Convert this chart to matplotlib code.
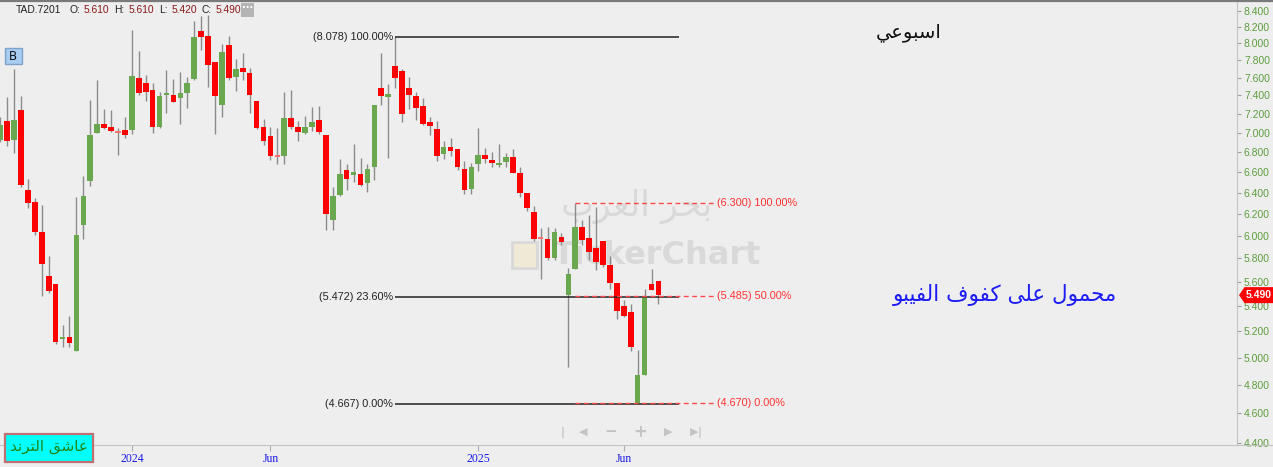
import matplotlib
matplotlib.use('Agg')
import matplotlib.pyplot as plt
from matplotlib.ticker import FixedLocator, FixedFormatter, NullLocator
from matplotlib.patches import Rectangle, Polygon
from matplotlib.lines import Line2D
from matplotlib.transforms import IdentityTransform

# ---------------- data ----------------
symbol = 'TAD.7201'
opens = [6.92, 7.12, 6.92, 7.24, 6.42, 6.31, 6.03, 5.65, 5.58, 5.14,
         5.16, 5.05, 6.10, 6.51, 7.00, 7.09, 7.06, 7.00, 7.03, 7.03,
         7.60, 7.54, 7.46, 7.06, 7.40, 7.41, 7.37, 7.43, 7.58, 8.15,
         8.09, 7.78, 7.29, 7.98, 7.61, 7.71, 7.65, 7.34, 7.06, 6.96,
         6.75, 6.76, 7.15, 7.06, 7.00, 7.06, 7.13, 6.98, 6.14, 6.38,
         6.62, 6.57, 6.58, 6.49, 6.65, 7.48, 7.38, 7.73, 7.67, 7.48,
         7.39, 7.28, 7.11, 7.04, 6.78, 6.85, 6.83, 6.63, 6.43, 6.68,
         6.77, 6.72, 6.67, 6.70, 6.75, 6.59, 6.40, 6.22, 5.97, 5.97,
         5.80, 5.99, 5.49, 5.71, 6.08, 5.98, 5.89, 5.95, 5.74, 5.59,
         5.40, 5.35, 4.67, 4.87, 5.58, 5.61]
highs = [7.16, 7.38, 7.70, 7.39, 6.53, 6.35, 6.28, 5.82, 5.58, 5.25,
         5.32, 6.36, 6.56, 7.35, 7.57, 7.25, 7.24, 7.05, 7.16, 8.16,
         7.91, 7.63, 7.54, 7.44, 7.69, 7.58, 7.66, 7.61, 8.27, 8.33,
         8.34, 7.78, 7.99, 8.09, 7.81, 7.89, 7.71, 7.34, 7.14, 7.06,
         7.05, 7.44, 7.46, 7.12, 7.18, 7.27, 7.28, 6.98, 6.45, 6.73,
         6.68, 6.88, 6.74, 6.68, 7.30, 7.89, 7.53, 8.078, 7.70, 7.61,
         7.44, 7.37, 7.16, 7.12, 6.91, 6.94, 6.83, 6.71, 6.69, 7.05,
         6.84, 6.80, 6.88, 6.79, 6.83, 6.65, 6.40, 6.27, 6.07, 6.08,
         6.07, 6.02, 5.72, 6.30, 6.14, 6.19, 6.26, 5.95, 5.82, 5.59,
         5.45, 5.42, 5.06, 5.54, 5.71, 5.61]
lows = [6.90, 6.86, 6.79, 6.45, 6.25, 6.01, 5.48, 5.51, 5.10, 5.08,
        5.08, 5.05, 5.97, 6.46, 7.00, 7.04, 7.01, 6.77, 6.94, 6.99,
        7.41, 7.34, 7.00, 7.05, 7.21, 7.33, 7.09, 7.26, 7.57, 7.92,
        7.49, 6.99, 7.16, 7.57, 7.45, 7.57, 7.21, 7.04, 6.87, 6.72,
        6.68, 6.68, 7.04, 6.91, 6.99, 7.02, 6.99, 6.05, 6.05, 6.37,
        6.42, 6.50, 6.46, 6.41, 6.52, 7.29, 6.74, 7.48, 7.11, 7.25,
        7.13, 7.08, 6.98, 6.71, 6.73, 6.76, 6.62, 6.39, 6.39, 6.61,
        6.69, 6.65, 6.65, 6.65, 6.59, 6.36, 6.23, 5.95, 5.62, 5.79,
        5.79, 5.92, 4.93, 5.71, 5.92, 5.79, 5.70, 5.73, 5.54, 5.30,
        5.31, 5.05, 4.667, 4.87, 5.53, 5.42]
closes = [7.08, 6.91, 7.13, 6.47, 6.30, 6.03, 5.75, 5.52, 5.12, 5.15,
          5.11, 6.01, 6.37, 6.98, 7.09, 7.05, 7.02, 7.00, 6.98, 7.62,
          7.43, 7.44, 7.06, 7.39, 7.41, 7.33, 7.43, 7.54, 8.08, 8.08,
          7.74, 7.39, 7.90, 7.60, 7.70, 7.66, 7.41, 7.05, 6.91, 6.76,
          6.75, 7.15, 7.06, 7.01, 7.06, 7.11, 7.01, 6.20, 6.37, 6.58,
          6.53, 6.60, 6.47, 6.63, 7.30, 7.39, 7.42, 7.59, 7.20, 7.40,
          7.26, 7.09, 7.07, 6.76, 6.85, 6.81, 6.65, 6.42, 6.65, 6.77,
          6.73, 6.69, 6.69, 6.75, 6.59, 6.40, 6.25, 5.97, 5.97, 5.80,
          6.03, 5.94, 5.67, 6.08, 5.96, 5.86, 5.77, 5.74, 5.59, 5.36,
          5.32, 5.08, 4.87, 5.47, 5.53, 5.49]

x_tick_pos = [19, 39, 69, 90]
x_tick_labels = ['2024', 'Jun', '2025', 'Jun']
y_ticks = [4.4, 4.6, 4.8, 5.0, 5.2, 5.4, 5.6, 5.8, 6.0, 6.2, 6.4,
           6.6, 6.8, 7.0, 7.2, 7.4, 7.6, 7.8, 8.0, 8.2, 8.4]

fib1_levels = [8.078, 5.472, 4.667]
fib1_pcts = ['100.00%', '23.60%', '0.00%']
fib2_levels = [6.300, 5.485, 4.670]
fib2_pcts = ['100.00%', '50.00%', '0.00%']

title_ar = 'اسبوعي'
note_ar = 'محمول على كفوف الفيبو'
badge_ar = 'عاشق الترند'
wm_ar = 'بحر العرب'
wm_en = 'TickerChart'

# ---------------- Arabic shaping (presentation forms, visual order) ----------------
AR_FORMS = {
    'ا': ('\uFE8D', '\uFE8E'),
    'ب': ('\uFE8F', '\uFE90', '\uFE91', '\uFE92'),
    'ت': ('\uFE95', '\uFE96', '\uFE97', '\uFE98'),
    'ج': ('\uFE9D', '\uFE9E', '\uFE9F', '\uFEA0'),
    'ح': ('\uFEA1', '\uFEA2', '\uFEA3', '\uFEA4'),
    'د': ('\uFEA9', '\uFEAA'),
    'ر': ('\uFEAD', '\uFEAE'),
    'س': ('\uFEB1', '\uFEB2', '\uFEB3', '\uFEB4'),
    'ش': ('\uFEB5', '\uFEB6', '\uFEB7', '\uFEB8'),
    'ع': ('\uFEC9', '\uFECA', '\uFECB', '\uFECC'),
    'غ': ('\uFECD', '\uFECE', '\uFECF', '\uFED0'),
    'ف': ('\uFED1', '\uFED2', '\uFED3', '\uFED4'),
    'ق': ('\uFED5', '\uFED6', '\uFED7', '\uFED8'),
    'ك': ('\uFED9', '\uFEDA', '\uFEDB', '\uFEDC'),
    'ل': ('\uFEDD', '\uFEDE', '\uFEDF', '\uFEE0'),
    'م': ('\uFEE1', '\uFEE2', '\uFEE3', '\uFEE4'),
    'ن': ('\uFEE5', '\uFEE6', '\uFEE7', '\uFEE8'),
    'ه': ('\uFEE9', '\uFEEA', '\uFEEB', '\uFEEC'),
    'و': ('\uFEED', '\uFEEE'),
    'ى': ('\uFEEF', '\uFEF0', '\uFBE8', '\uFBE9'),
    'ي': ('\uFEF1', '\uFEF2', '\uFEF3', '\uFEF4'),
}


def shape_ar(s):
    out = []
    n = len(s)
    for i, ch in enumerate(s):
        forms = AR_FORMS.get(ch)
        if not forms:
            out.append(ch)
            continue
        prev = s[i - 1] if i > 0 else ''
        nxt = s[i + 1] if i + 1 < n else ''
        jp = prev in AR_FORMS and len(AR_FORMS[prev]) == 4
        jn = len(forms) == 4 and nxt in AR_FORMS
        if jp and jn:
            out.append(forms[3])
        elif jp:
            out.append(forms[1])
        elif jn:
            out.append(forms[2])
        else:
            out.append(forms[0])
    return ''.join(reversed(out))


# ---------------- figure ----------------
W, H = 1273, 467
BG = '#eeeeee'
fig = plt.figure(figsize=(W / 100, H / 100), dpi=100, facecolor=BG)


def fx(x):
    return x / W


def fy(y):
    return 1 - y / H


ax = fig.add_axes([0, fy(445), fx(1237), 445 / H], facecolor=BG)
ax.set_yscale('log')
ax.set_ylim(4.388, 8.535)
ax.set_xlim(-0.03, 178.5)

GREEN = '#6aa84f'
RED = '#ff0000'
WICK = '#8c8c8c'

xs = list(range(len(closes)))
ax.vlines(xs, lows, highs, color=WICK, lw=1.0, zorder=2)
for i in xs:
    o, c = opens[i], closes[i]
    col = GREEN if c > o else RED
    lo, hi = min(o, c), max(o, c)
    if hi - lo < lo * 0.003:
        hi = lo * 1.003
        if c == o:
            col = '#ff7070'
    ax.bar(i, hi - lo, bottom=lo, width=0.82, color=col, lw=0, zorder=3)

# Fibonacci 1 (black, solid)
for lev, pct in zip(fib1_levels, fib1_pcts):
    ax.hlines(lev, 57, 97.9, color='#222222', lw=1.1, zorder=4)
    ax.text(56.7, lev, f'({lev:.3f}) {pct}', ha='right', va='center',
            fontsize=7.8, color='#222222', family='Liberation Sans', zorder=5)

# Fibonacci 2 (red, dashed)
for lev, pct in zip(fib2_levels, fib2_pcts):
    ax.hlines(lev, 83, 103.2, color='#ff4a4a', lw=1.0, linestyles=(0, (3.5, 2.5)), zorder=4)
    ax.text(103.4, lev, f'({lev:.3f}) {pct}', ha='left', va='center',
            fontsize=7.8, color='#ff3030', family='Liberation Sans', zorder=5)

# watermark
ax.text(553 / 1237, 1 - 255 / 445, wm_en, transform=ax.transAxes,
        fontsize=23, fontweight='bold', color='#d9d9d9', ha='left', va='center',
        family='DejaVu Sans', zorder=1)
ax.text(637 / 1237, 1 - 206 / 445, shape_ar(wm_ar), transform=ax.transAxes,
        fontsize=25, color='#d9d9d9', ha='center', va='center',
        family='DejaVu Sans', zorder=1)
ax.add_patch(Rectangle((512 / 1237, 1 - 268 / 445), 25 / 1237, 26 / 445, transform=ax.transAxes,
                       fc='#efe9d6', ec='#d9d9d9', lw=2, zorder=1))

# axes styling
for s in ['top', 'left']:
    ax.spines[s].set_visible(False)
ax.spines['right'].set_color('#c4c4c4')
ax.spines['bottom'].set_color('#c4c4c4')
ax.yaxis.tick_right()
ax.yaxis.set_major_locator(FixedLocator(y_ticks))
ax.yaxis.set_major_formatter(FixedFormatter([f'{v:.3f}' for v in y_ticks]))
ax.yaxis.set_minor_locator(NullLocator())
ax.tick_params(axis='y', which='major', direction='out', length=3, width=0.8,
               color='#a0a0a0', labelcolor='#5d9e3e', labelsize=7.5, pad=2)
for t in ax.get_yticklabels():
    t.set_family('Liberation Sans')
ax.xaxis.set_major_locator(FixedLocator(x_tick_pos))
ax.xaxis.set_major_formatter(FixedFormatter(x_tick_labels))
ax.xaxis.set_minor_locator(NullLocator())
ax.tick_params(axis='x', which='major', direction='out', length=4, width=0.8,
               color='#b0b0b0', labelcolor='#1a1ae6', labelsize=8.5, pad=1.5)
for t in ax.get_xticklabels():
    t.set_family('Liberation Serif')

# figure border lines
fig.add_artist(Line2D([0, 1], [fy(0.8), fy(0.8)], transform=fig.transFigure, color='#7a7a7a', lw=1.6))
fig.add_artist(Line2D([fx(1237), 1], [fy(445), fy(445)], transform=fig.transFigure, color='#c4c4c4', lw=0.8))

# header
hdr_font = dict(fontsize=7.4, family='Liberation Sans', va='center', ha='left')
fig.text(fx(16), fy(10), symbol, color='#222222', **hdr_font)
hdr = [('O:', 69, '5.610', 84), ('H:', 114, '5.610', 129), ('L:', 159, '5.420', 172), ('C:', 202, '5.490', 216)]
for lab, lx, val, vx in hdr:
    fig.text(fx(lx), fy(10), lab, color='#222222', **hdr_font)
    fig.text(fx(vx), fy(10), val, color='#8b1a1a', **hdr_font)
fig.add_artist(Rectangle((fx(241), fy(17)), fx(13), 14 / H, transform=fig.transFigure,
                         fc='#b4b4b4', ec='none'))
fig.text(fx(247.5), fy(8), '···', color='white', fontsize=7, fontweight='bold',
         ha='center', va='center', family='DejaVu Sans')

# B button
fig.add_artist(Rectangle((fx(5), fy(64.5)), fx(16.5), 16.5 / H, transform=fig.transFigure,
                         fc='#a8cdf2', ec='#7fa3c8', lw=1))
fig.text(fx(13.3), fy(56.5), 'B', color='#111111', fontsize=8.5, ha='center', va='center',
         family='DejaVu Sans')

# Arabic annotations
fig.text(fx(909), fy(32), shape_ar(title_ar), color='#111111', fontsize=14,
         ha='center', va='center', family='DejaVu Sans')
fig.text(fx(1005), fy(295), shape_ar(note_ar), color='#1c1cf5', fontsize=15.5,
         ha='center', va='center', family='DejaVu Sans')

# badge
fig.add_artist(Rectangle((fx(5), fy(462)), fx(88), 28 / H, transform=fig.transFigure,
                         fc='#00ffff', ec='#c07070', lw=1.6))
fig.text(fx(49), fy(447), shape_ar(badge_ar), color='#1a8a1a', fontsize=11,
         ha='center', va='center', family='DejaVu Sans')

# navigation icons
for ch, x, fs in [('|', 563, 8), ('\u25C0', 583, 8), ('\u2212', 611, 11), ('+', 640, 12),
                  ('\u25B6', 668, 8), ('\u25B6', 694, 8), ('|', 699.5, 8)]:
    fig.text(fx(x), fy(432), ch, color='#c4c4c4', fontsize=fs, fontweight='bold',
             ha='center', va='center', family='DejaVu Sans')

# last price tag
fig.canvas.draw()
ypix = ax.transData.transform((0, closes[-1]))[1]
tag = [(1239, ypix), (1244.5, ypix + 8), (1273, ypix + 8), (1273, ypix - 8), (1244.5, ypix - 8)]
fig.add_artist(Polygon(tag, closed=True, transform=IdentityTransform(), fc='#ff0000', ec='none'))
fig.text(fx(1258.5), ypix / H, f'{closes[-1]:.3f}', color='white', fontsize=7.5,
         fontweight='bold', ha='center', va='center', family='Liberation Sans')

fig.savefig('out.png', dpi=100, facecolor=BG)
